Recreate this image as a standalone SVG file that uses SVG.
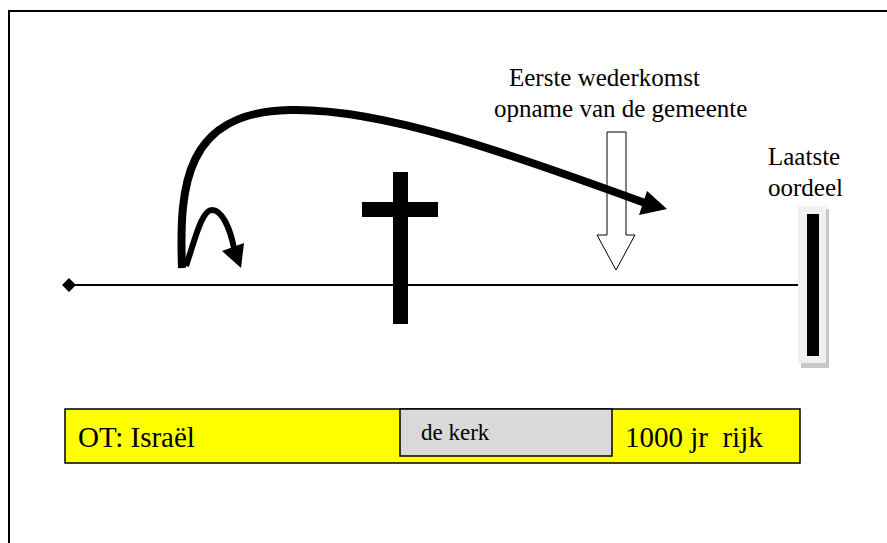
<svg xmlns="http://www.w3.org/2000/svg" width="887" height="543" viewBox="0 0 887 543">
  <style>
    .t { font-family: "Liberation Serif", "Times New Roman", serif; fill: #000; }
    .big { font-size: 25px; }
    .bar { font-size: 29px; }
    .small { font-size: 23px; }
  </style>
  <rect x="0" y="0" width="887" height="543" fill="#fff"/>
  <rect x="9" y="11" width="900" height="600" fill="none" stroke="#000" stroke-width="2"/>

  <g id="timeline">
    <line x1="69" y1="285" x2="798" y2="285" stroke="#000" stroke-width="2"/>
    <polygon points="62,285 69,278 76,285 69,292" fill="#000"/>
  </g>

  <g id="cross">
    <rect x="393" y="172" width="15" height="152" fill="#000"/>
    <rect x="362" y="202" width="76" height="15" fill="#000"/>
  </g>

  <g id="first-coming">
    <text class="t big" x="509" y="86">Eerste wederkomst</text>
    <text class="t big" x="494" y="117">opname van de gemeente</text>
    <polygon points="607,132 626,132 626,235 635,235 616,270 597,235 607,235" fill="#fff" stroke="#000" stroke-width="1"/>
  </g>

  <g id="last-judgement">
    <text class="t big" x="768" y="165">Laatste</text>
    <text class="t big" x="768" y="196">oordeel</text>
    <rect x="801" y="209" width="28" height="159" fill="#c8c8c8"/>
    <rect x="798" y="206" width="28" height="157" fill="#f0f0f0"/>
    <rect x="807" y="214" width="12" height="142" fill="#000"/>
  </g>

  <g id="periods">
    <rect x="65" y="409" width="735" height="54" fill="#ffff00" stroke="#000" stroke-width="1.5"/>
    <rect x="400" y="409" width="212" height="47" fill="#d9d9d9" stroke="#000" stroke-width="1.5"/>
    <text class="t bar" x="78" y="447">OT: Israël</text>
    <text class="t small" x="421" y="440">de kerk</text>
    <text class="t bar" x="625" y="447" xml:space="preserve">1000 jr  rijk</text>
  </g>

  <g id="connectors" fill="none" stroke="#000">
    <path d="M182,268 C179,185 185,112 290,110 C380,108 500,150 645,203" stroke-width="8"/>
    <polygon points="667,209 647,191 639,215" fill="#000" stroke="none"/>
    <path d="M186,266 C196,236 202,210 212,210 C222,210 230,228 234,248" stroke-width="6"/>
    <polygon points="241,268 222,251 244,243" fill="#000" stroke="none"/>
  </g>
</svg>
